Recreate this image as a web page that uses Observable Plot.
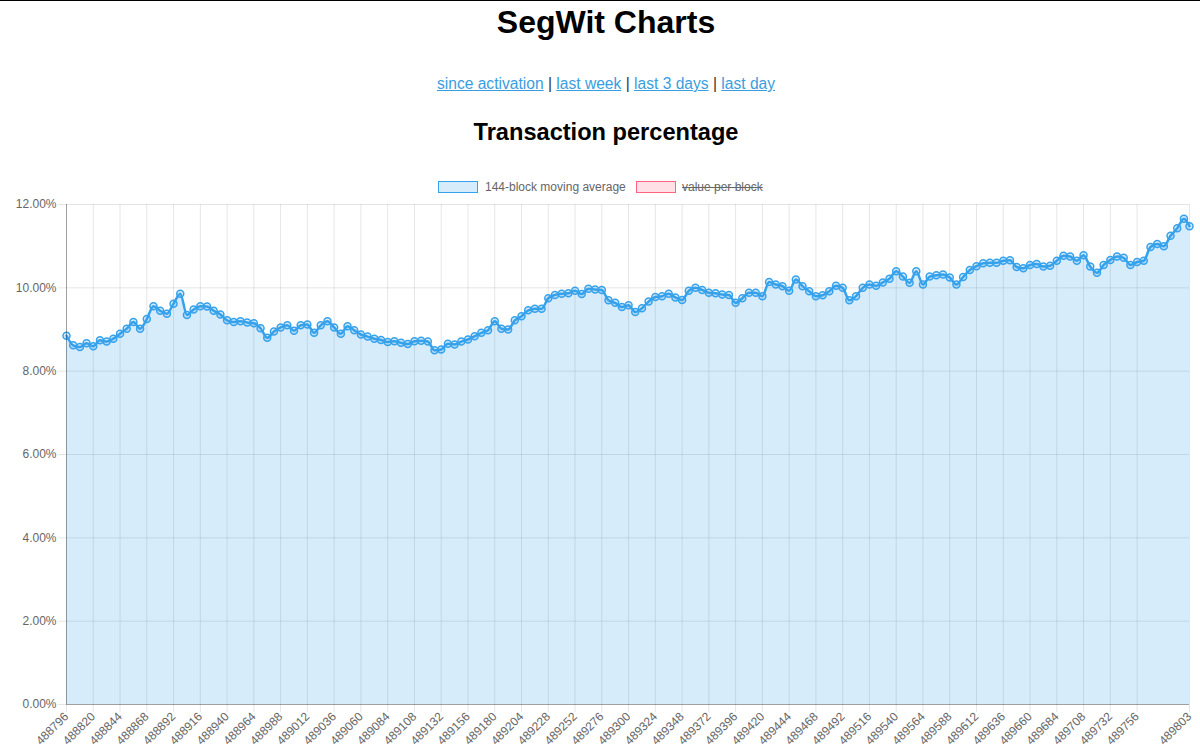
<!DOCTYPE html>
<html>
<head>
<meta charset="utf-8">
<script src="https://cdn.jsdelivr.net/npm/d3@7"></script>
<script src="https://cdn.jsdelivr.net/npm/@observablehq/plot@0.6"></script>
<style>
  html, body { margin: 0; padding: 0; background: #fff; width: 1200px; height: 754px; overflow: hidden; }
  body { font-family: "Liberation Sans", Arial, sans-serif; position: relative; border-top: 1px solid #000; box-sizing: border-box; }
  .title { position: absolute; top: 2px; left: 12px; width: 1188px; text-align: center; font-size: 32px; font-weight: bold; color: #000; margin: 0; line-height: 38px; }
  .links { position: absolute; top: 73px; left: 12px; width: 1188px; text-align: center; font-size: 15.6px; color: #333; line-height: 20px; }
  .links a { color: #3a9de0; text-decoration: underline; }
  .sub { position: absolute; top: 117px; left: 12px; width: 1188px; text-align: center; font-size: 23.6px; font-weight: bold; color: #000; margin: 0; line-height: 28px; }
  .legend { position: absolute; top: 179px; left: 0; width: 1200px; font-size: 12px; color: #666; }
  .legend .box { position: absolute; top: 1px; width: 38px; height: 10px; }
  .legend .lbl { position: absolute; top: 0; line-height: 14px; }
  #chart { position: absolute; top: 194px; left: 0; }
</style>
</head>
<body>
<div class="title">SegWit Charts</div>
<div class="links"><a>since activation</a> | <a>last week</a> | <a>last 3 days</a> | <a>last day</a></div>
<div class="sub">Transaction percentage</div>
<div class="legend">
  <div class="box" style="left:438px;background:rgba(54,162,235,0.2);border:1px solid rgb(54,162,235);"></div>
  <div class="lbl" style="left:485px;">144-block moving average</div>
  <div class="box" style="left:636px;background:rgba(255,99,132,0.2);border:1px solid rgb(255,99,132);"></div>
  <div class="lbl" style="left:682px;text-decoration:line-through;">value per block</div>
</div>
<div id="chart"></div>
<script>
// Block heights (every 6 blocks, plus last block) and 144-block moving average of SegWit tx percentage
const blocks = [
  488796,488802,488808,488814,488820,488826,488832,488838,488844,488850,
  488856,488862,488868,488874,488880,488886,488892,488898,488904,488910,
  488916,488922,488928,488934,488940,488946,488952,488958,488964,488970,
  488976,488982,488988,488994,489000,489006,489012,489018,489024,489030,
  489036,489042,489048,489054,489060,489066,489072,489078,489084,489090,
  489096,489102,489108,489114,489120,489126,489132,489138,489144,489150,
  489156,489162,489168,489174,489180,489186,489192,489198,489204,489210,
  489216,489222,489228,489234,489240,489246,489252,489258,489264,489270,
  489276,489282,489288,489294,489300,489306,489312,489318,489324,489330,
  489336,489342,489348,489354,489360,489366,489372,489378,489384,489390,
  489396,489402,489408,489414,489420,489426,489432,489438,489444,489450,
  489456,489462,489468,489474,489480,489486,489492,489498,489504,489510,
  489516,489522,489528,489534,489540,489546,489552,489558,489564,489570,
  489576,489582,489588,489594,489600,489606,489612,489618,489624,489630,
  489636,489642,489648,489654,489660,489666,489672,489678,489684,489690,
  489696,489702,489708,489714,489720,489726,489732,489738,489744,489750,
  489756,489762,489768,489774,489780,489786,489792,489798,489803
];
const movingAvg = [
  8.85,8.62,8.58,8.67,8.60,8.74,8.71,8.78,8.90,9.02,
  9.18,9.02,9.25,9.56,9.45,9.38,9.62,9.86,9.35,9.48,
  9.56,9.55,9.45,9.36,9.22,9.18,9.20,9.17,9.15,9.03,
  8.80,8.95,9.05,9.10,8.97,9.10,9.12,8.92,9.10,9.20,
  9.05,8.90,9.08,8.98,8.88,8.83,8.78,8.75,8.70,8.72,
  8.68,8.65,8.72,8.73,8.71,8.50,8.52,8.66,8.64,8.71,
  8.76,8.84,8.92,8.98,9.20,9.02,9.00,9.22,9.32,9.46,
  9.50,9.50,9.75,9.83,9.86,9.87,9.93,9.85,9.98,9.96,
  9.95,9.70,9.64,9.54,9.58,9.42,9.51,9.67,9.78,9.80,
  9.86,9.77,9.71,9.93,10.00,9.95,9.88,9.87,9.84,9.83,
  9.64,9.75,9.88,9.88,9.80,10.14,10.08,10.04,9.93,10.20,
  10.04,9.92,9.80,9.82,9.92,10.05,10.00,9.70,9.80,10.00,
  10.08,10.05,10.13,10.22,10.40,10.27,10.12,10.40,10.08,10.27,
  10.30,10.32,10.25,10.08,10.26,10.43,10.52,10.59,10.60,10.60,
  10.65,10.66,10.50,10.47,10.55,10.57,10.51,10.53,10.65,10.77,
  10.75,10.65,10.78,10.51,10.36,10.55,10.67,10.75,10.72,10.55,
  10.62,10.65,10.98,11.05,11.00,11.25,11.43,11.66,11.48
];
const xTicks = [
  488796,488820,488844,488868,488892,488916,488940,488964,488988,489012,
  489036,489060,489084,489108,489132,489156,489180,489204,489228,489252,
  489276,489300,489324,489348,489372,489396,489420,489444,489468,489492,
  489516,489540,489564,489588,489612,489636,489660,489684,489708,489732,
  489756,489803
];
const yTicks = [0, 2, 4, 6, 8, 10, 12];

const data = blocks.map((b, i) => ({block: b, value: movingAvg[i]}));
const blue = "rgb(54,162,235)";
const blueFill = "rgba(54,162,235,0.2)";

const chart = Plot.plot({
  width: 1200,
  height: 560,
  marginTop: 9,
  marginBottom: 51,
  marginLeft: 66,
  marginRight: 11,
  style: {fontFamily: "'Liberation Sans', Arial, sans-serif", fontSize: "12px", color: "#666", background: "#fff"},
  x: {domain: [488796, 489803], axis: null},
  y: {domain: [0, 12], axis: null},
  marks: [
    Plot.gridX(xTicks, {stroke: "#000", strokeOpacity: 0.1, y1: 0, y2: 12}),
    Plot.gridY(yTicks, {stroke: "#000", strokeOpacity: 0.1}),
    Plot.areaY(data, {x: "block", y: "value", fill: blueFill, curve: "monotone-x"}),
    Plot.lineY(data, {x: "block", y: "value", stroke: blue, strokeWidth: 2.5, curve: "monotone-x"}),
    Plot.dot(data, {x: "block", y: "value", r: 3.5, stroke: blue, strokeWidth: 1.5, fill: blueFill}),
    Plot.axisX(xTicks, {label: null, tickRotate: -45, tickFormat: d => String(d), tickSize: 8, tickPadding: 2, stroke: "#000", strokeOpacity: 0.1, fill: "#666", fontSize: 12}),
    Plot.axisY(yTicks, {label: null, tickFormat: d => d.toFixed(2) + "%", tickSize: 8, tickPadding: 2, stroke: "#000", strokeOpacity: 0.1, fill: "#666", fontSize: 12}),
    Plot.ruleX([488796], {stroke: "#000", strokeOpacity: 0.3}),
    Plot.ruleY([0], {stroke: "#000", strokeOpacity: 0.3})
  ]
});
document.getElementById("chart").appendChild(chart);
</script>
</body>
</html>
